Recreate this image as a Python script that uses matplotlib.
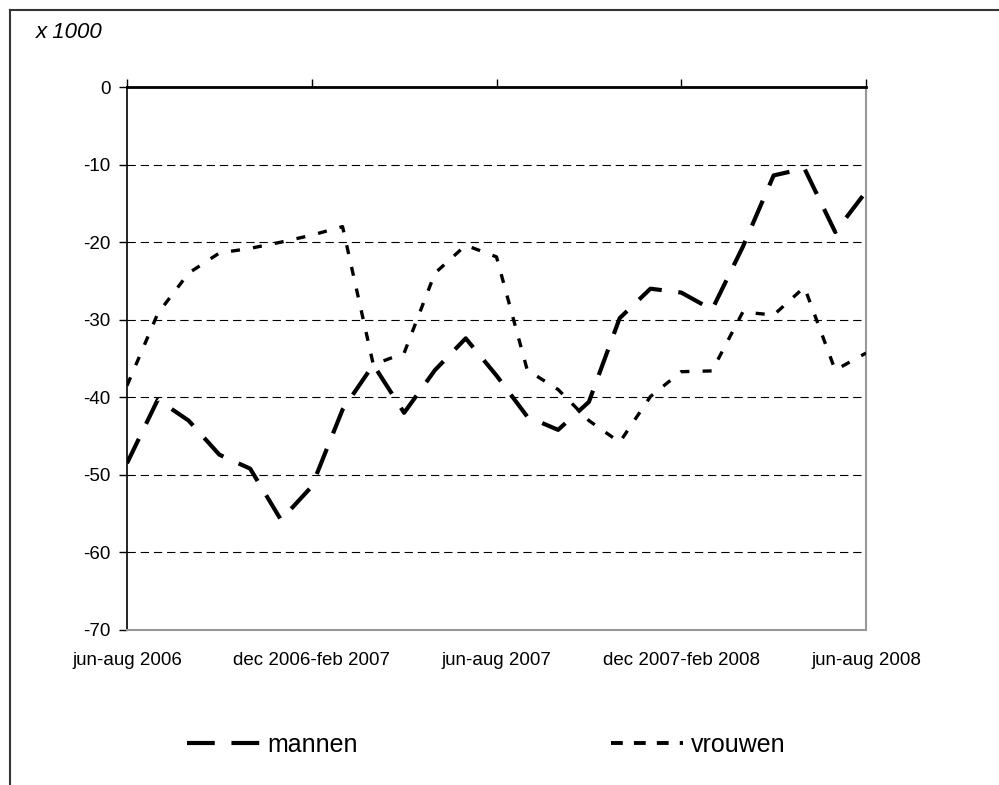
import matplotlib
matplotlib.use('Agg')
import matplotlib.pyplot as plt
from matplotlib.lines import Line2D

plt.rcParams['font.family'] = ['Liberation Sans', 'DejaVu Sans']
plt.rcParams['axes.unicode_minus'] = False
plt.rcParams['lines.scale_dashes'] = False

# 3-maandsperiodes, jun-aug 2006 t/m jun-aug 2008
periods = ['jun-aug 2006', 'jul-sep 2006', 'aug-okt 2006', 'sep-nov 2006',
           'okt-dec 2006', 'nov 2006-jan 2007', 'dec 2006-feb 2007',
           'jan-mrt 2007', 'feb-apr 2007', 'mrt-mei 2007', 'apr-jun 2007',
           'mei-jul 2007', 'jun-aug 2007', 'jul-sep 2007', 'aug-okt 2007',
           'sep-nov 2007', 'okt-dec 2007', 'nov 2007-jan 2008',
           'dec 2007-feb 2008', 'jan-mrt 2008', 'feb-apr 2008',
           'mrt-mei 2008', 'apr-jun 2008', 'mei-jul 2008', 'jun-aug 2008']

mannen = [-48.5, -40.3, -43.0, -47.4, -49.2, -55.8, -51.5, -41.6, -35.8,
          -42.0, -36.5, -32.4, -37.2, -42.5, -44.2, -40.6, -29.8, -26.0,
          -26.5, -28.7, -20.6, -11.4, -10.5, -18.7, -13.5]
vrouwen = [-38.5, -29.2, -24.0, -21.4, -20.8, -20.0, -19.1, -18.0, -35.8,
           -34.3, -24.0, -20.4, -21.9, -36.5, -39.0, -43.0, -45.8, -39.9,
           -36.7, -36.6, -29.0, -29.4, -25.8, -36.5, -34.3]

y_ticks = [0, -10, -20, -30, -40, -50, -60, -70]
grid_lines = [-10, -20, -30, -40, -50, -60]
label_every = 6

fig = plt.figure(figsize=(9.99, 7.85), dpi=100)
ax = fig.add_axes([127 / 999, 1 - 630 / 785, 739 / 999, 543 / 785])

x = list(range(len(periods)))

ax.hlines(grid_lines, 0, len(periods) - 1, colors='black', linewidth=0.8,
          linestyles=(0, (6, 3.5)), zorder=1)

l_m, = ax.plot(x, mannen, color='black', linewidth=3.0,
               linestyle=(0, (19.5, 12)), label='mannen', zorder=3)
l_v, = ax.plot(x, vrouwen, color='black', linewidth=2.4,
               linestyle=(0, (6.5, 9.5)), label='vrouwen', zorder=3)

ax.set_xlim(0, len(periods) - 1)
ax.set_ylim(-70, 0)
ax.set_yticks(y_ticks)
ax.set_yticklabels([str(v) for v in y_ticks], fontsize=13.5)

tick_pos = x[::label_every]
ax.set_xticks(tick_pos)
ax.set_xticklabels([periods[i] for i in tick_pos], fontsize=13.5)
ax.tick_params(axis='x', top=True, bottom=False, labeltop=False,
               labelbottom=True, direction='out', length=6, width=1,
               pad=10, color='black')
ax.tick_params(axis='y', direction='out', length=6, width=1, pad=6,
               color='black')

ax.spines['top'].set_color('black')
ax.spines['top'].set_linewidth(2)
ax.spines['left'].set_color('black')
ax.spines['left'].set_linewidth(1.2)
ax.spines['right'].set_color('#999999')
ax.spines['right'].set_linewidth(1.5)
ax.spines['bottom'].set_color('#999999')
ax.spines['bottom'].set_linewidth(1.5)

fig.text(36 / 999, 1 - 38 / 785, 'x 1000', fontsize=16, style='italic',
         ha='left', va='baseline')

# legenda
h_m = Line2D([], [], color='black', linewidth=3.0, linestyle=(0, (20, 12)))
h_v = Line2D([], [], color='black', linewidth=2.8, linestyle=(0, (8.5, 8)))
fig.legend([h_m, h_v], ['mannen', 'vrouwen'], ncol=2, frameon=False,
           loc='center left', bbox_to_anchor=(187 / 999, 1 - 745 / 785),
           fontsize=18, handlelength=2.9, handletextpad=0.32,
           columnspacing=10.1, borderpad=0, borderaxespad=0)

# kader rond de grafiek
fig.add_artist(Line2D([10 / 999, 1], [1 - 10 / 785, 1 - 10 / 785],
                      color='#333333', linewidth=1.5))
fig.add_artist(Line2D([10 / 999, 10 / 999], [1 - 10 / 785, 0],
                      color='#333333', linewidth=1.5))

fig.savefig('out.png', dpi=100)
